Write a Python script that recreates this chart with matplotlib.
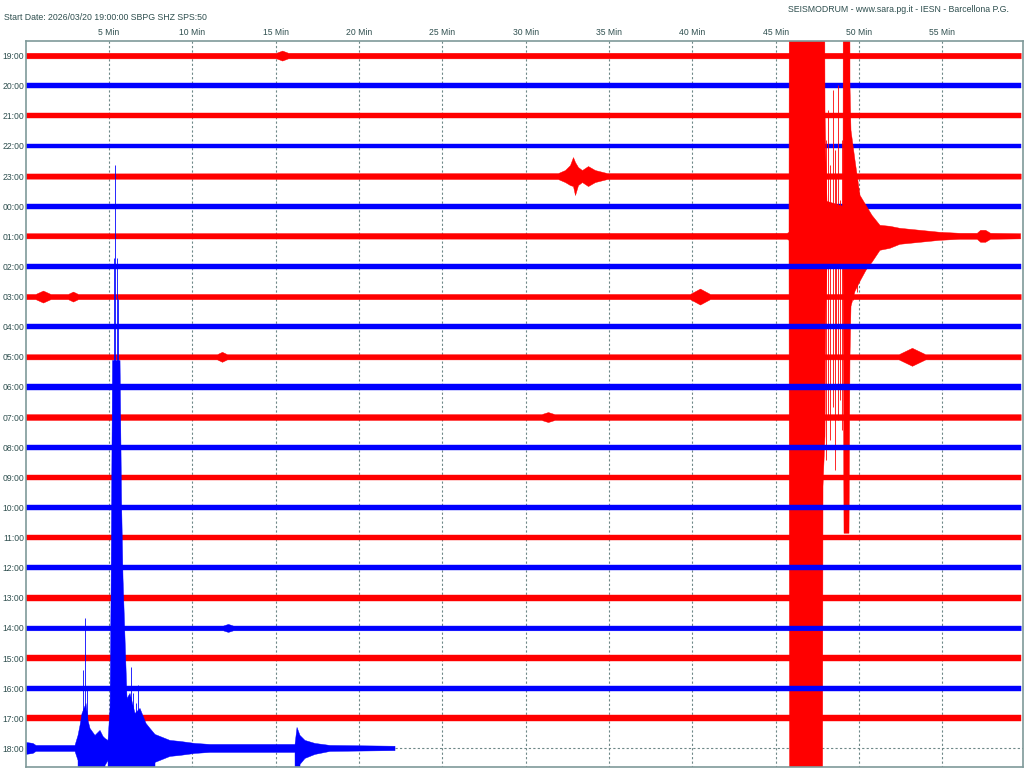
import numpy as np
import matplotlib.pyplot as plt

plt.rcParams['font.family'] = ['Liberation Sans', 'DejaVu Sans']

hours = ['19:00', '20:00', '21:00', '22:00', '23:00', '00:00', '01:00', '02:00',
         '03:00', '04:00', '05:00', '06:00', '07:00', '08:00', '09:00', '10:00',
         '11:00', '12:00', '13:00', '14:00', '15:00', '16:00', '17:00', '18:00']
row_colors = ['#ff0000', '#0000ff'] * 12
row_end = [59.7] * 23 + [22.16]            # minutes recorded in each row
# half thickness of the background noise band (amplitude units, 30 = one row)
noise = [2.8, 2.4, 2.6, 2.4, 2.6, 2.4, 2.6, 2.4, 2.6, 2.4, 2.6, 2.6,
         2.9, 2.6, 2.7, 2.6, 2.7, 2.4, 2.7, 2.4, 2.9, 2.4, 2.9, 2.2]

CLIP = 999  # trace goes off the drum

# big quake, 01:00 row: (minute, amplitude up, amplitude down)
env_0100 = [(45.70, 3, 3), (45.80, 4, 4), (45.86, CLIP, CLIP), (47.78, CLIP, CLIP),
            (47.84, CLIP, 250), (47.96, 126, 200), (48.02, 73, 60), (48.08, 35, 30),
            (49.04, 30, 30), (49.10, CLIP, 297), (49.40, CLIP, 297), (49.46, 150, 120),
            (49.52, 106, 70), (49.76, 76, 55), (50.06, 41, 45), (50.42, 31, 34),
            (50.78, 21, 26), (51.26, 11, 14), (51.86, 10, 12), (52.46, 8, 8),
            (53.66, 6, 6), (54.86, 4, 4), (56.06, 3, 3),
            (57.10, 3, 3), (57.30, 6, 6), (57.60, 6, 6), (57.90, 3, 3)]
spk_0100 = [(48.02, 96, 224), (48.14, 126, 184), (48.26, 71, 204), (48.44, 146, 171),
            (48.56, 86, 234), (48.62, 61, 120), (48.74, 151, 184), (48.86, 36, 164),
            (48.98, 96, 194), (49.64, 0, 64), (49.90, 0, 56)]

# local quakes, 18:00 row
env_1800 = [(0.02, 6, 6), (0.44, 5, 5), (0.62, 3, 3), (2.96, 3, 3), (3.14, 13, 12),
            (3.26, 23, CLIP), (3.38, 35, CLIP), (3.50, 40, CLIP), (3.62, 45, CLIP),
            (3.74, 28, CLIP), (3.86, 20, CLIP), (4.16, 13, CLIP), (4.46, 18, CLIP),
            (4.64, 12, CLIP), (4.76, 10, 17), (4.94, 8, 12), (5.06, 40, CLIP),
            (5.12, 150, CLIP), (5.21, 388, CLIP), (5.66, 388, CLIP), (5.75, 250, CLIP),
            (5.84, 170, CLIP), (5.96, 110, CLIP), (6.08, 50, CLIP), (6.26, 55, CLIP),
            (6.56, 35, CLIP), (6.86, 40, CLIP), (7.22, 25, CLIP), (7.46, 20, CLIP),
            (7.76, 14, 14), (8.06, 12, 12), (8.66, 8, 8), (9.26, 7, 7), (10.16, 5, 5),
            (11.06, 4, 4), (16.16, 4, 4), (16.28, 21, CLIP), (16.46, 13, 16),
            (16.76, 8, 10), (17.36, 5, 6), (18.26, 3, 3)]
spk_1800 = [(3.44, 78, 0), (3.56, 130, 0), (3.68, 60, 0), (5.27, 491, 0),
            (5.36, 584, 0), (5.45, 491, 0), (5.51, 450, 0), (6.32, 81, 0),
            (6.44, 55, 0), (6.62, 45, 0), (6.74, 63, 0)]

# regional event, 23:00 row
env_2300 = [(31.94, 3, 3), (32.36, 6, 6), (32.66, 11, 9), (32.84, 19, 10),
            (32.96, 14, 19), (33.14, 9, 9), (33.38, 6, 6), (33.74, 10, 10),
            (34.16, 6, 6), (34.88, 3, 3)]

# small bursts: (row, centre minute, half duration in minutes, amplitude)
bursts = [('19:00', 15.39, 0.35, 5), ('03:00', 1.04, 0.45, 6), ('03:00', 2.84, 0.30, 5),
          ('03:00', 40.46, 0.60, 8), ('05:00', 11.78, 0.30, 5), ('05:00', 53.18, 0.80, 9),
          ('07:00', 31.34, 0.40, 5), ('14:00', 12.14, 0.30, 4)]

events = {'01:00': env_0100, '18:00': env_1800, '23:00': env_2300}
spikes = {'01:00': spk_0100, '18:00': spk_1800}

ROW = 30.13
grid_col = '#6e8888'
text_col = '#2f4f4f'

# ================= drawing =================
fig = plt.figure(figsize=(10.24, 7.68), dpi=100)
ax = fig.add_axes([25.7 / 1024, 1 - 766.5 / 768, (1022.5 - 25.7) / 1024, (766.5 - 40.5) / 768])
ax.set_xlim(0, 59.81)
ax.set_ylim(23.6, -0.5)

for i, hr in enumerate(hours):
    n = noise[i]
    pts = [(0.0, n, n), (row_end[i], n, n)]
    pts += events.get(hr, [])
    for (b_hr, c, w, a) in bursts:
        if b_hr == hr:
            pts += [(c - w, n, n), (c, a, a), (c + w, n, n)]
    pts = sorted(p for p in pts if p[0] <= row_end[i])
    t = np.array([p[0] for p in pts])
    up = np.maximum([p[1] for p in pts], n) / ROW
    dn = np.maximum([p[2] for p in pts], n) / ROW
    ax.fill_between(t, i - up, i + dn, color=row_colors[i], lw=0.3, zorder=2 + i)
    for (m, u, d) in spikes.get(hr, []):
        ax.vlines(m, i - max(u, n) / ROW, i + max(d, n) / ROW, color=row_colors[i],
                  lw=0.7, alpha=0.85, zorder=2 + i)

# unrecorded part of the last row
ax.hlines(23, row_end[-1], 59.81, colors=grid_col, linestyles=(0, (2, 2)), lw=0.8, zorder=1)
# minute grid
ax.vlines(range(5, 60, 5), -0.5, 23.6, colors=grid_col, linestyles=(0, (2, 2)), lw=0.8, zorder=1)

ax.xaxis.tick_top()
ax.set_xticks(range(5, 60, 5))
ax.set_xticklabels([f'{m} Min' for m in range(5, 60, 5)])
ax.set_yticks(range(24))
ax.set_yticklabels(hours)
ax.tick_params(length=0, labelsize=6.2, labelcolor=text_col)
ax.tick_params(axis='x', pad=2.5)
ax.tick_params(axis='y', pad=1.2)
for s in ax.spines.values():
    s.set_color('#7f9a9a')
    s.set_linewidth(1.2)
    s.set_zorder(100)

fig.text(4 / 1024, 1 - 17 / 768, 'Start Date: 2026/03/20 19:00:00 SBPG SHZ SPS:50',
         ha='left', va='center', fontsize=6.3, color=text_col)
fig.text(1009 / 1024, 1 - 9 / 768, 'SEISMODRUM - www.sara.pg.it - IESN - Barcellona P.G.',
         ha='right', va='center', fontsize=6.3, color=text_col)

fig.savefig('out.png', dpi=100)
